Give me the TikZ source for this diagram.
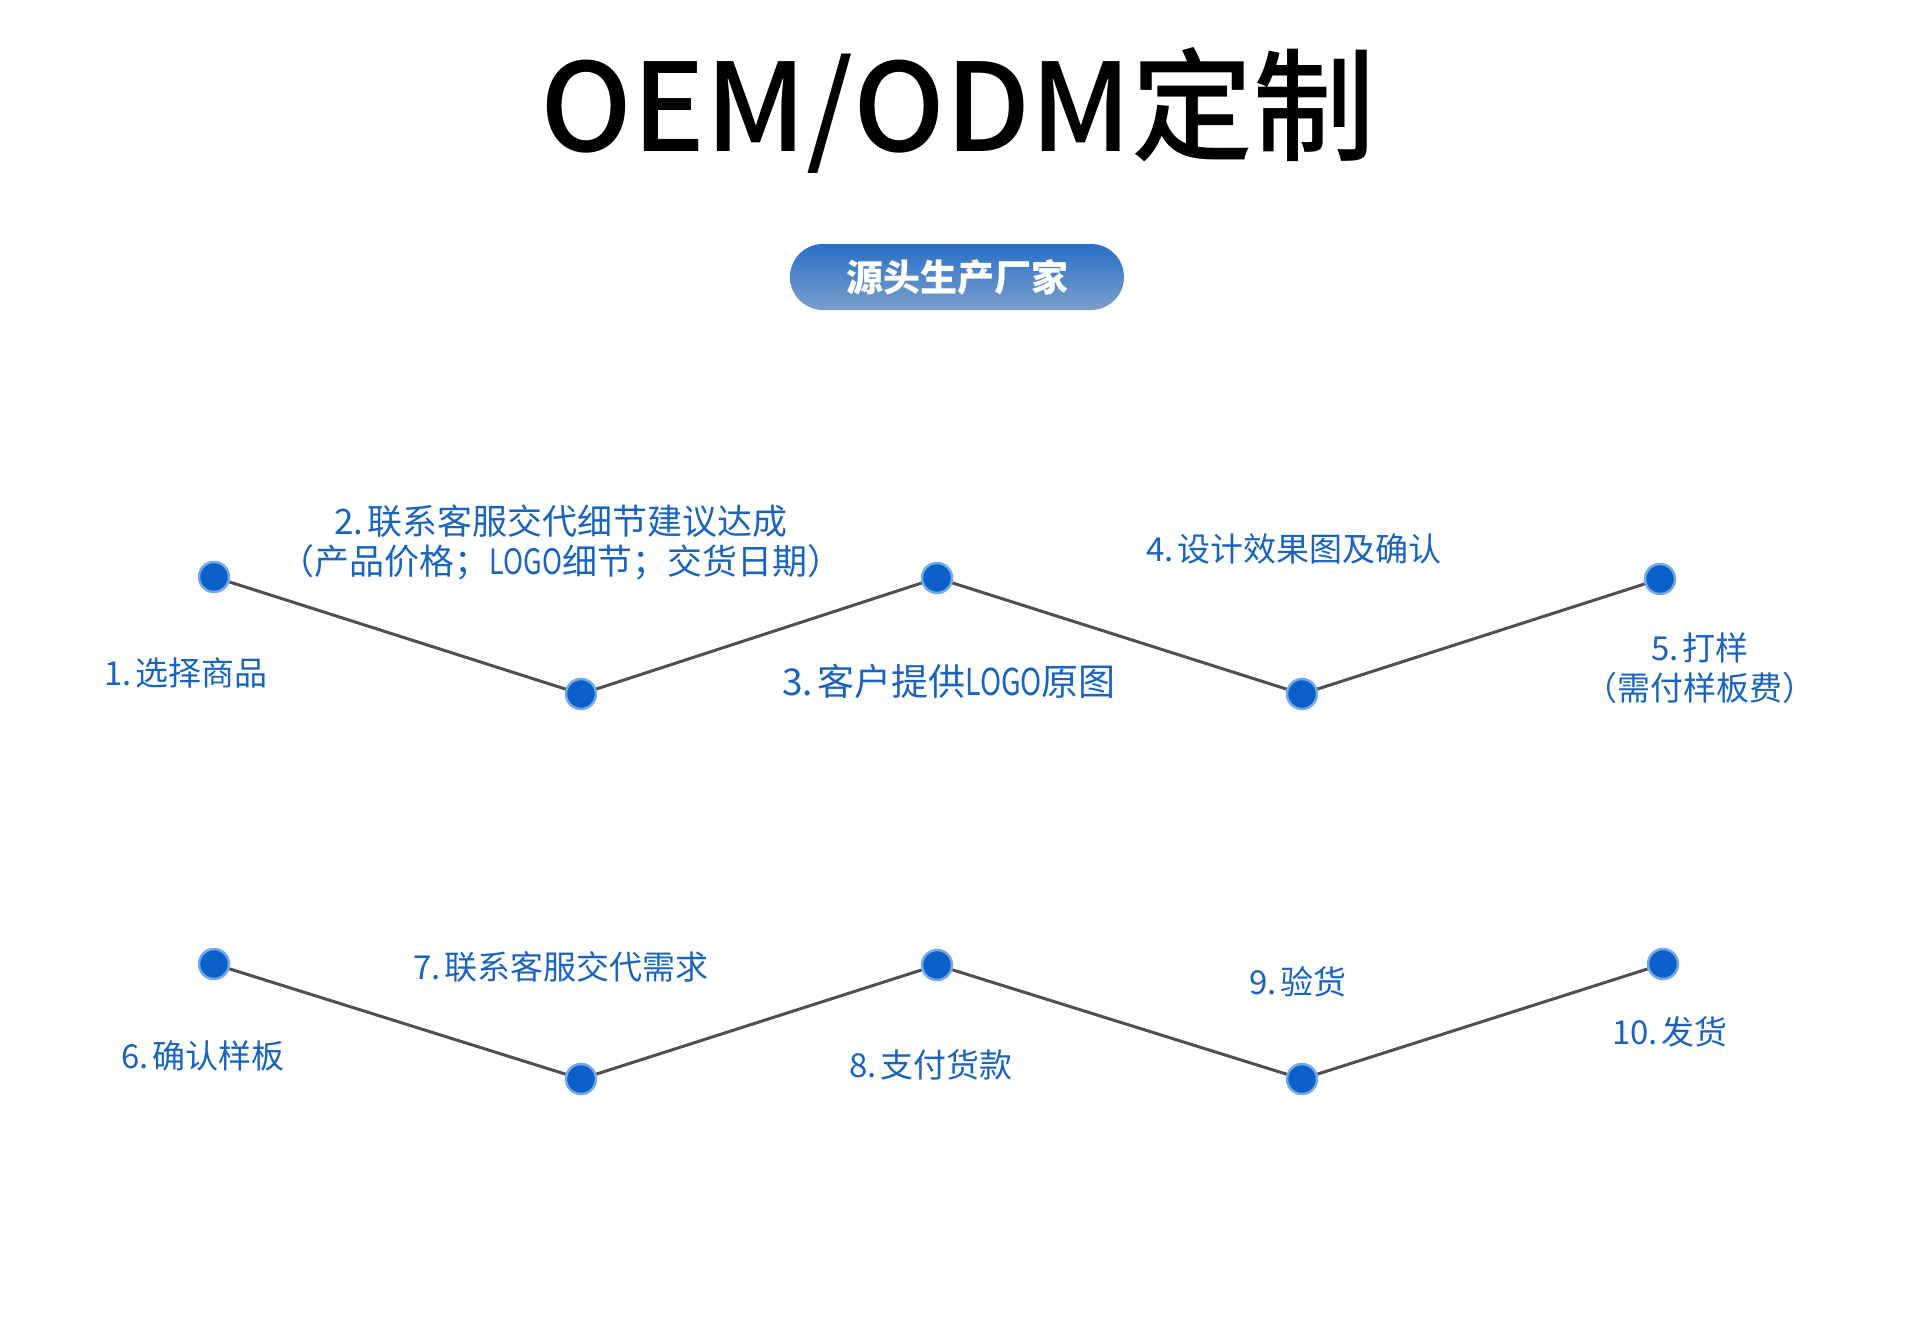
\documentclass[tikz,border=0pt]{standalone}
\usepackage{fontspec}
\setmainfont{Noto Sans CJK SC}
\newfontfamily\titlefont{Noto Sans CJK SC}[UprightFont=* Medium, BoldFont=* Bold]
\usetikzlibrary{shapes.misc}
\definecolor{lblue}{HTML}{1A64C0}
\definecolor{dotblue}{HTML}{0B5FC8}
\definecolor{ringblue}{HTML}{72AAE8}
\definecolor{linegray}{HTML}{505050}
\definecolor{badgetop}{HTML}{2A6FC6}
\definecolor{badgebot}{HTML}{7A9FCD}
\newcommand{\nar}[1]{\scalebox{0.77}[1]{#1}}
\newcommand{\pd}{.\hspace{0.12em}}
\tikzset{
  dotnode/.style={circle, fill=dotblue, draw=ringblue, line width=2.5pt, minimum size=30pt, inner sep=0pt},
  lbl/.style={text=lblue, align=center, inner sep=0pt, font=\fontsize{33}{40}\selectfont},
  link/.style={draw=linegray, line width=3pt},
}
\begin{document}
\begin{tikzpicture}[x=1pt,y=-1pt]
\useasboundingbox[fill=white] (0,0) rectangle (1920,1344);
% title
\node[inner sep=0pt, font=\fontsize{122}{130}\selectfont\titlefont] (title) at (958,110) {OEM/ODM定制};
% badge
\node[rounded rectangle, minimum width=334pt, minimum height=66pt, inner sep=0pt,
      top color=badgetop, bottom color=badgebot, draw=none,
      text=white, font=\fontsize{37}{40}\selectfont\bfseries] (badge) at (957,277) {源头生产厂家};
% row 1 dots
\node[dotnode] (d1) at (214,577) {};
\node[dotnode] (d2) at (581,694) {};
\node[dotnode] (d3) at (937,578) {};
\node[dotnode] (d4) at (1302,694) {};
\node[dotnode] (d5) at (1660,579) {};
% row 2 dots
\node[dotnode] (d6) at (214,964) {};
\node[dotnode] (d7) at (581,1079) {};
\node[dotnode] (d8) at (937,965) {};
\node[dotnode] (d9) at (1302,1079) {};
\node[dotnode] (d10) at (1663,964) {};
% connectors
\draw[link] (d1) -- (d2);
\draw[link] (d2) -- (d3);
\draw[link] (d3) -- (d4);
\draw[link] (d4) -- (d5);
\draw[link] (d6) -- (d7);
\draw[link] (d7) -- (d8);
\draw[link] (d8) -- (d9);
\draw[link] (d9) -- (d10);
% labels row 1
\node[lbl] (l1) at (186,673) {1\pd 选择商品};
\node[lbl, font=\fontsize{35}{40}\selectfont] (l2) at (561,542) {2\pd 联系客服交代细节建议达成\\（产品价格；\nar{LOGO}细节；交货日期）};
\node[lbl, font=\fontsize{37}{40}\selectfont] (l3) at (949,681) {3\pd 客户提供\nar{LOGO}原图};
\node[lbl] (l4) at (1294,549) {4\pd 设计效果图及确认};
\node[lbl] (l5) at (1700,668) {5\pd 打样\\（需付样板费）};
% labels row 2
\node[lbl] (l6) at (203,1056) {6\pd 确认样板};
\node[lbl] (l7) at (561,967) {7\pd 联系客服交代需求};
\node[lbl] (l8) at (931,1065) {8\pd 支付货款};
\node[lbl] (l9) at (1298,982) {9\pd 验货};
\node[lbl] (l10) at (1670,1032) {10\pd 发货};
\end{tikzpicture}
\end{document}
